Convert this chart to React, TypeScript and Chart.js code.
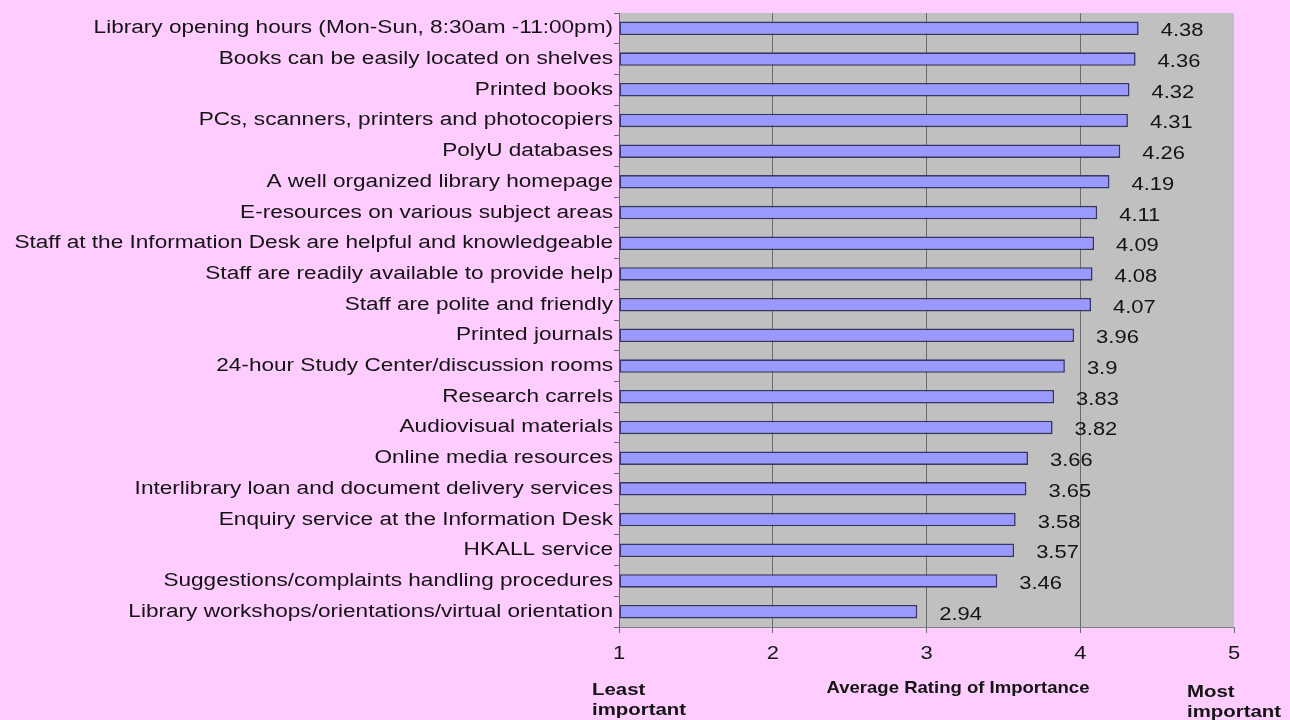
import React, { useEffect, useRef } from "react";
import { Chart, registerables } from "chart.js";

Chart.register(...registerables);

const categories: string[] = [
  "Library opening hours (Mon-Sun, 8:30am -11:00pm)",
  "Books can be easily located on shelves",
  "Printed books",
  "PCs, scanners, printers and photocopiers",
  "PolyU databases",
  "A well organized library homepage",
  "E-resources on various subject areas",
  "Staff at the Information Desk are helpful and knowledgeable",
  "Staff are readily available to provide help",
  "Staff are polite and friendly",
  "Printed journals",
  "24-hour Study Center/discussion rooms",
  "Research carrels",
  "Audiovisual materials",
  "Online media resources",
  "Interlibrary loan and document delivery services",
  "Enquiry service at the Information Desk",
  "HKALL service",
  "Suggestions/complaints handling procedures",
  "Library workshops/orientations/virtual orientation",
];

const ratings: number[] = [
  4.38, 4.36, 4.32, 4.31, 4.26, 4.19, 4.11, 4.09, 4.08, 4.07, 3.96, 3.9, 3.83,
  3.82, 3.66, 3.65, 3.58, 3.57, 3.46, 2.94,
];

const scaleMin = 1;
const scaleMax = 5;
const axisTitle = "Average Rating of Importance";
const leftEndLabel = ["Least", "important"];
const rightEndLabel = ["Most", "important"];

const FONT = '"Liberation Sans", Arial, sans-serif';
const TEXT_COLOR = "#141414";

function stretchedText(
  ctx: CanvasRenderingContext2D,
  text: string,
  x: number,
  y: number,
  align: CanvasTextAlign,
  sx: number
) {
  ctx.save();
  ctx.translate(x, y);
  ctx.scale(sx, 1);
  ctx.textAlign = align;
  ctx.textBaseline = "middle";
  ctx.fillText(text, 0, 0);
  ctx.restore();
}

export default function App() {
  const canvasRef = useRef<HTMLCanvasElement | null>(null);

  useEffect(() => {
    const canvas = canvasRef.current;
    if (!canvas) return;

    const plotBg = {
      id: "plotBg",
      beforeDraw(chart: any) {
        const { ctx, chartArea } = chart;
        ctx.save();
        ctx.fillStyle = "#c0c0c0";
        ctx.fillRect(
          chartArea.left,
          chartArea.top,
          chartArea.right - chartArea.left,
          chartArea.bottom - chartArea.top
        );
        ctx.restore();
      },
    };

    const textPlugin = {
      id: "texts",
      afterDraw(chart: any) {
        const { ctx, chartArea } = chart;
        const xs = chart.scales.x;
        const ys = chart.scales.y;
        ctx.save();
        ctx.fillStyle = TEXT_COLOR;

        // category labels
        ctx.font = `18px ${FONT}`;
        categories.forEach((c, i) => {
          stretchedText(ctx, c, chartArea.left - 6, ys.getPixelForValue(i), "right", 1.255);
        });

        // value labels
        ctx.font = `18px ${FONT}`;
        ratings.forEach((v, i) => {
          stretchedText(
            ctx,
            String(v),
            xs.getPixelForValue(v) + 22,
            ys.getPixelForValue(i) + 3,
            "left",
            1.22
          );
        });

        // x tick labels
        ctx.font = `18px ${FONT}`;
        xs.ticks.forEach((t: any) => {
          stretchedText(
            ctx,
            String(t.value),
            xs.getPixelForValue(t.value),
            chartArea.bottom + 27,
            "center",
            1.22
          );
        });

        // titles
        ctx.font = `bold 17px ${FONT}`;
        stretchedText(ctx, axisTitle, 958, chartArea.bottom + 61, "center", 1.09);
        leftEndLabel.forEach((s, i) => {
          stretchedText(ctx, s, xs.getPixelForValue(scaleMin) - 27, chartArea.bottom + 63 + i * 20, "left", 1.2);
        });
        rightEndLabel.forEach((s, i) => {
          stretchedText(ctx, s, xs.getPixelForValue(scaleMax) - 47, chartArea.bottom + 65 + i * 20, "left", 1.2);
        });
        ctx.restore();
      },
    };

    const chart = new Chart(canvas, {
      type: "bar",
      data: {
        labels: categories,
        datasets: [
          {
            data: ratings,
            base: scaleMin,
            backgroundColor: "#9999ff",
            borderColor: "#363666",
            borderWidth: 1.6,
            borderSkipped: false,
            categoryPercentage: 1,
            barPercentage: 0.44,
          } as any,
        ],
      },
      options: {
        indexAxis: "y",
        responsive: false,
        animation: false,
        devicePixelRatio: 1,
        layout: { padding: { top: 13, right: 56, bottom: 0, left: 0 } },
        plugins: {
          legend: { display: false },
          tooltip: { enabled: false },
        },
        scales: {
          x: {
            type: "linear",
            min: scaleMin,
            max: scaleMax,
            ticks: { stepSize: 1, display: false },
            grid: {
              color: (ctx: any) =>
                ctx.tick && (ctx.tick.value === scaleMin || ctx.tick.value === scaleMax)
                  ? "rgba(0,0,0,0)"
                  : "#6a6a6a",
              tickColor: "#6a6a6a",
              tickLength: 6,
              lineWidth: 1,
            },
            border: { display: true, color: "#808080", width: 1 },
            afterFit: (scale: any) => {
              scale.height = 93;
            },
          },
          y: {
            type: "category",
            ticks: { display: false },
            grid: {
              offset: true,
              drawOnChartArea: false,
              tickLength: 5,
              tickColor: "#6a6a6a",
            },
            border: { display: true, color: "#6a6a6a", width: 1 },
            afterFit: (scale: any) => {
              scale.width = 619;
            },
          },
        },
      },
      plugins: [plotBg, textPlugin],
    });

    return () => chart.destroy();
  }, []);

  return (
    <div
      style={{
        position: "fixed",
        left: 0,
        top: 0,
        width: 1290,
        height: 720,
        background: "#ffccff",
      }}
    >
      <canvas ref={canvasRef} width={1290} height={720} style={{ display: "block" }} />
    </div>
  );
}
